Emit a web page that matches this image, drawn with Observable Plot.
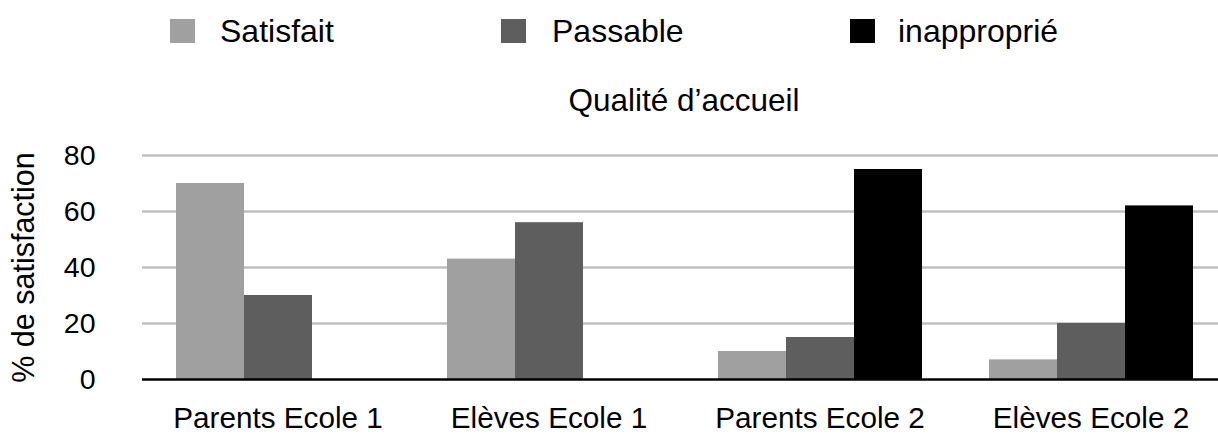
<!DOCTYPE html>
<html lang="fr">
<head>
<meta charset="utf-8">
<script src="https://cdn.jsdelivr.net/npm/d3@7"></script>
<script src="https://cdn.jsdelivr.net/npm/@observablehq/plot@0.6"></script>
<style>
  html, body { margin: 0; padding: 0; background: #fff; overflow: hidden; }
  body { font-family: "Liberation Sans", Arial, Helvetica, sans-serif; color: #000; }
  #head { position: relative; width: 1218px; height: 125px; }
  .swatch { position: absolute; top: 19px; width: 25px; height: 24px; }
  .lbl { position: absolute; top: 15px; font-size: 32px; line-height: 32px; white-space: nowrap; }
  #title { position: absolute; top: 85px; left: 484px; width: 400px; text-align: center;
           font-size: 31.5px; line-height: 31.5px; white-space: nowrap; }
  #chart svg { display: block; }
</style>
</head>
<body>
<div id="head">
  <div id="title">Qualité d’accueil</div>
</div>
<div id="chart"></div>
<script>
// Groupes interrogés et niveaux de satisfaction
const groups = ["Parents Ecole 1", "Elèves Ecole 1", "Parents Ecole 2", "Elèves Ecole 2"];
const series = ["Satisfait", "Passable", "inapproprié"];
const colors = ["#a0a0a0", "#5e5e5e", "#000000"];

// Pourcentages par groupe
const satisfait   = [70, 43, 10, 7];
const passable    = [30, 56, 15, 20];
const inapproprie = [0, 0, 75, 62];

const yTicks = [0, 20, 40, 60, 80];
const gridTicks = [20, 40, 60, 80];

// Légende au-dessus du graphique
const legendX = [{sw: 170, tx: 220}, {sw: 501, tx: 552}, {sw: 850, tx: 898}];
const head = document.getElementById("head");
series.forEach((s, i) => {
  const sw = document.createElement("div");
  sw.className = "swatch";
  sw.style.left = legendX[i].sw + "px";
  sw.style.background = colors[i];
  head.appendChild(sw);
  const t = document.createElement("div");
  t.className = "lbl";
  t.style.left = legendX[i].tx + "px";
  t.textContent = s;
  head.appendChild(t);
});

// Table longue construite à partir des séries
const values = [satisfait, passable, inapproprie];
const data = [];
groups.forEach((g, gi) => {
  series.forEach((s, si) => {
    data.push({group: g, series: s, value: values[si][gi]});
  });
});

const chart = Plot.plot({
  width: 1218,
  height: 310,
  marginTop: 30,
  marginBottom: 56,
  marginLeft: 141,
  marginRight: -9,
  style: {fontFamily: "'Liberation Sans', Arial, Helvetica, sans-serif", color: "#000", background: "#fff"},
  fx: {domain: groups, padding: 0, label: null},
  x: {domain: series, paddingInner: 0, paddingOuter: 0.467, axis: null},
  y: {domain: [0, 80], label: null},
  color: {domain: series, range: colors},
  marks: [
    Plot.ruleY(gridTicks, {stroke: "#bfbfbf", strokeWidth: 2.5}),
    Plot.barY(data, {fx: "group", x: "series", y: "value", fill: "series"}),
    Plot.ruleY([0], {stroke: "#000", strokeWidth: 2.3}),
    Plot.axisY({ticks: yTicks, tickSize: 0, tickPadding: 47, fontSize: 28.5, label: null}),
    Plot.axisY({ticks: [], tickSize: 0, fontSize: 30.5, label: "% de satisfaction",
                labelAnchor: "center", labelOffset: 130, labelArrow: "none"}),
    Plot.axisFx({anchor: "bottom", tickSize: 0, tickPadding: 27, fontSize: 29.7, label: null})
  ]
});
document.getElementById("chart").appendChild(chart);
</script>
</body>
</html>
